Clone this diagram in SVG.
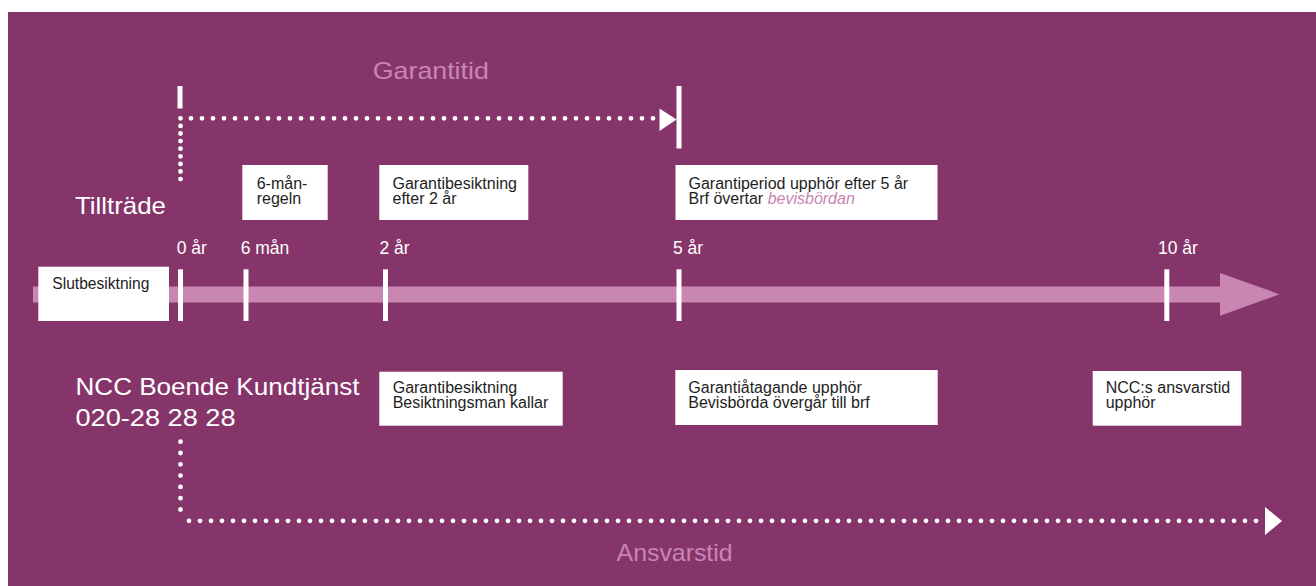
<svg xmlns="http://www.w3.org/2000/svg" width="1316" height="586" viewBox="0 0 1316 586">
<style>
.bg{fill:#86356B}
.band{fill:#C886B1}
.tick{fill:#FFFFFF}
.box{fill:#FFFFFF}
.bt{font-family:"Liberation Sans",Arial,sans-serif;font-size:16px;fill:#1E1E1E}
.lbl{font-family:"Liberation Sans",Arial,sans-serif;font-size:17.5px;fill:#FFFFFF}
.big{font-family:"Liberation Sans",Arial,sans-serif;font-size:24px;fill:#FFFFFF}
.pink{font-family:"Liberation Sans",Arial,sans-serif;font-size:24px;fill:#C885B2}
.em{font-style:italic;fill:#C885B2}
.dot{fill:none;stroke:#FFFFFF;stroke-width:4.8;stroke-linecap:round}
.head{fill:#FFFFFF}
</style>
<rect class="bg" x="8" y="12" width="1308" height="574"/>

<g id="timeline">
  <rect class="band" x="33" y="286.5" width="1188" height="16"/>
  <polygon class="band" points="1220,273 1279.5,294.3 1220,315.7"/>
</g>

<g id="connectors">
  <path class="dot" d="M180.5,118.3 V179.5" stroke-dasharray="0 7.6"/>
  <path class="dot" d="M191,118.3 H655" stroke-dasharray="0 11"/>
  <polygon class="head" points="659.5,108.5 676.5,119.5 659.5,131"/>
  <path class="dot" d="M180.5,441.7 V520.8" stroke-dasharray="0 11.3"/>
  <path class="dot" d="M189,520.8 H1260" stroke-dasharray="0 11"/>
  <polygon class="head" points="1265,507 1282,521 1265,535"/>
</g>

<g id="ticks">
  <rect class="tick" x="177.5" y="86" width="5" height="22.5"/>
  <rect class="tick" x="676.5" y="86" width="5" height="62.5"/>
  <rect class="tick" x="178" y="269.3" width="5" height="51.7"/>
  <rect class="tick" x="243.5" y="269.3" width="5" height="51.7"/>
  <rect class="tick" x="383" y="269.3" width="5" height="51.7"/>
  <rect class="tick" x="676.5" y="269.3" width="5" height="51.7"/>
  <rect class="tick" x="1164.3" y="269.3" width="5" height="51.7"/>
</g>

<g id="labels">
  <text class="lbl" x="176.7" y="254">0 år</text>
  <text class="lbl" x="240.7" y="254">6 mån</text>
  <text class="lbl" x="379.5" y="254">2 år</text>
  <text class="lbl" x="673" y="254">5 år</text>
  <text class="lbl" x="1158" y="254">10 år</text>
</g>

<g id="titles">
  <text class="pink" x="372.8" y="79.3" textLength="116" lengthAdjust="spacingAndGlyphs">Garantitid</text>
  <text class="pink" x="616.6" y="560.7" textLength="116" lengthAdjust="spacingAndGlyphs">Ansvarstid</text>
  <text class="big" x="75" y="214" textLength="91" lengthAdjust="spacingAndGlyphs">Tillträde</text>
  <text class="big" x="75.5" y="395" textLength="284" lengthAdjust="spacingAndGlyphs">NCC Boende Kundtjänst</text>
  <text class="big" x="75.5" y="426" textLength="160" lengthAdjust="spacingAndGlyphs">020-28 28 28</text>
</g>

<g id="node-slutbesiktning">
  <rect class="box" x="38.3" y="266.7" width="130.7" height="54.3"/>
  <text class="bt" x="52.3" y="289.3" style="font-size:15.6px">Slutbesiktning</text>
</g>

<g id="node-6man">
  <rect class="box" x="242.3" y="165" width="85.4" height="55"/>
  <text class="bt" x="256.7" y="189">6-mån-</text>
  <text class="bt" x="256.7" y="203.5">regeln</text>
</g>

<g id="node-garanti2">
  <rect class="box" x="379.3" y="165" width="149" height="55"/>
  <text class="bt" x="392.5" y="189">Garantibesiktning</text>
  <text class="bt" x="392.5" y="203.5">efter 2 år</text>
</g>

<g id="node-garanti5">
  <rect class="box" x="675.5" y="165" width="262" height="55"/>
  <text class="bt" x="688.5" y="188.5">Garantiperiod upphör efter 5 år</text>
  <text class="bt" x="688.5" y="203.5">Brf övertar <tspan class="em">bevisbördan</tspan></text>
</g>

<g id="node-besiktningsman">
  <rect class="box" x="379.3" y="371.7" width="183.4" height="54"/>
  <text class="bt" x="392.7" y="392.7">Garantibesiktning</text>
  <text class="bt" x="392.7" y="407.7">Besiktningsman kallar</text>
</g>

<g id="node-garantiatagande">
  <rect class="box" x="675.3" y="370" width="262.4" height="55"/>
  <text class="bt" x="688.3" y="392.7">Garantiåtagande upphör</text>
  <text class="bt" x="688.3" y="407.7">Bevisbörda övergår till brf</text>
</g>

<g id="node-ansvarstid">
  <rect class="box" x="1092.7" y="371" width="148.6" height="54.7"/>
  <text class="bt" x="1105.7" y="393.3">NCC:s ansvarstid</text>
  <text class="bt" x="1105.7" y="408.3">upphör</text>
</g>
</svg>
